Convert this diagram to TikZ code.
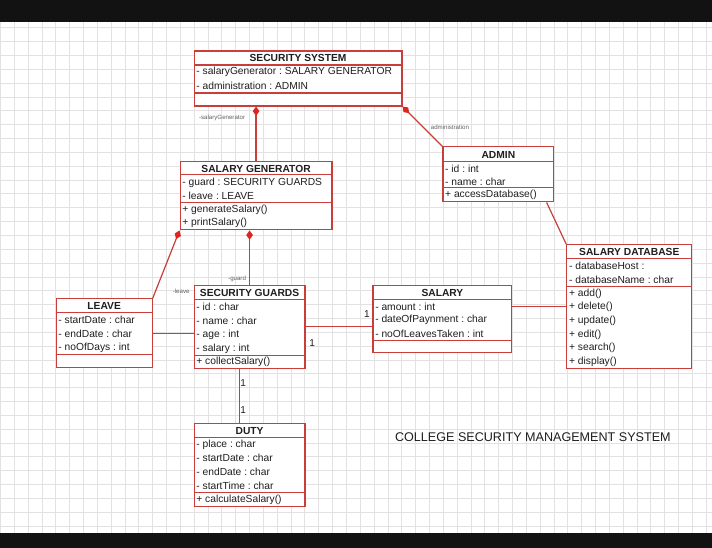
\documentclass[tikz,border=0pt]{standalone}
\usepackage{fontspec}
\setmainfont{Liberation Sans}
\usetikzlibrary{arrows.meta,fit,calc}
\definecolor{umlred}{RGB}{200,62,58}
\definecolor{dia}{RGB}{222,38,32}
\definecolor{gridc}{RGB}{226,226,226}
\definecolor{txt}{RGB}{30,30,30}
\frenchspacing
\newcommand{\umlclass}[7]{%
  \node[classbox, fit={(#2,#3) (#4,#5)}] (#1) {};
  \draw[sepline] (#2,#6) -- (#4,#6);
  \draw[sepline] (#2,#7) -- (#4,#7);
}
\begin{document}
\begin{tikzpicture}[x=0.75pt,y=-0.75pt,
  classbox/.style={draw=umlred,line width=0.9pt,fill=white,inner sep=0pt},
  sepline/.style={draw=umlred,line width=0.9pt},
  ctitle/.style={font=\fontsize{7.7}{9}\selectfont\bfseries,text=txt,inner sep=0pt},
  crow/.style={font=\fontsize{7.7}{9}\selectfont,text=txt,anchor=west,inner sep=0pt},
  conn/.style={draw=umlred,line width=0.9pt},
  comp/.style={conn,{Diamond[length=7pt,width=5pt,fill=dia,color=dia]}-},
  role/.style={font=\fontsize{4.6}{5.5}\selectfont,text=txt!70,inner sep=0pt},
  mult/.style={font=\fontsize{7.5}{9}\selectfont,text=txt,inner sep=0pt},
  bigtitle/.style={font=\fontsize{9.45}{11}\selectfont,text=txt,inner sep=0pt}]
% background and frame
\fill[white] (0,0) rectangle (712,548);
\foreach \gx in {0,13.85,...,712} \draw[gridc,line width=0.4pt] (\gx,22) -- (\gx,533);
\foreach \gy in {27.7,41.55,...,533} \draw[gridc,line width=0.4pt] (0,\gy) -- (712,\gy);
\fill[black!93] (0,0) rectangle (712,22);
\fill[black!93] (0,533) rectangle (712,548);
\useasboundingbox (0,0) rectangle (712,548);

% classes
\umlclass{ss}{194}{51}{402}{106}{65}{93}
\node[ctitle] (ss-t) at (298,58) {SECURITY SYSTEM};
\node[crow] (ss-a1) at (196,72) {- salaryGenerator : SALARY GENERATOR};
\node[crow] (ss-a2) at (196,86) {- administration : ADMIN};

\umlclass{sg}{180}{162}{332}{230}{175}{203}
\node[ctitle] (sg-t) at (256,169) {SALARY GENERATOR};
\node[crow] (sg-a1) at (182,182.5) {- guard : SECURITY GUARDS};
\node[crow] (sg-a2) at (182,196) {- leave : LEAVE};
\node[crow] (sg-o1) at (182,210) {+ generateSalary()};
\node[crow] (sg-o2) at (182,223.5) {+ printSalary()};

\umlclass{ad}{443}{147}{554}{202}{162}{188}
\node[ctitle] (ad-t) at (498.5,155) {ADMIN};
\node[crow] (ad-a1) at (445,168.5) {- id : int};
\node[crow] (ad-a2) at (445,181.5) {- name : char};
\node[crow] (ad-o1) at (445,195) {+ accessDatabase()};

\umlclass{db}{567}{245}{692}{369}{259}{287}
\node[ctitle] (db-t) at (629.5,252) {SALARY DATABASE};
\node[crow] (db-a1) at (569,266) {- databaseHost :};
\node[crow] (db-a2) at (569,280) {- databaseName : char};
\node[crow] (db-o1) at (569,294) {+ add()};
\node[crow] (db-o2) at (569,307.5) {+ delete()};
\node[crow] (db-o3) at (569,321) {+ update()};
\node[crow] (db-o4) at (569,335) {+ edit()};
\node[crow] (db-o5) at (569,348.5) {+ search()};
\node[crow] (db-o6) at (569,362) {+ display()};

\umlclass{lv}{56}{299}{152}{368}{313}{355}
\node[ctitle] (lv-t) at (104,306) {LEAVE};
\node[crow] (lv-a1) at (58,320) {- startDate : char};
\node[crow] (lv-a2) at (58,334) {- endDate : char};
\node[crow] (lv-a3) at (58,348) {- noOfDays : int};

\umlclass{gd}{194}{286}{305}{369}{300}{356}
\node[ctitle] (gd-t) at (249.5,293) {SECURITY GUARDS};
\node[crow] (gd-a1) at (196,307) {- id : char};
\node[crow] (gd-a2) at (196,321) {- name : char};
\node[crow] (gd-a3) at (196,335) {- age : int};
\node[crow] (gd-a4) at (196,349) {- salary : int};
\node[crow] (gd-o1) at (196,362.5) {+ collectSalary()};

\umlclass{sa}{373}{286}{512}{353}{300}{341}
\node[ctitle] (sa-t) at (442.5,293) {SALARY};
\node[crow] (sa-a1) at (375,307) {- amount : int};
\node[crow] (sa-a2) at (375,320.5) {- dateOfPaynment : char};
\node[crow] (sa-a3) at (375,334) {- noOfLeavesTaken : int};

\umlclass{du}{194}{424}{305}{507}{438}{493}
\node[ctitle] (du-t) at (249.5,431) {DUTY};
\node[crow] (du-a1) at (196,445) {- place : char};
\node[crow] (du-a2) at (196,458.5) {- startDate : char};
\node[crow] (du-a3) at (196,472.5) {- endDate : char};
\node[crow] (du-a4) at (196,486) {- startTime : char};
\node[crow] (du-o1) at (196,500) {+ calculateSalary()};

% connectors
\draw[comp] (sg.north |- ss.south) -- (sg.north);
\draw[comp] (ss.south east) -- (ad.north west);
\coordinate (adb) at ($(ad.south west)!0.93!(ad.south east)$);
\draw[conn] (adb) -- (db.north west);
\draw[comp] (sg.south west) -- (lv.north east);
\draw[comp] (gd.north |- sg.south) -- (gd.north);
\coordinate (lvr) at (lv.east |- 0,334);
\draw[conn] (lvr) -- (lvr -| gd.west);
\coordinate (gdr) at (gd.east |- 0,327);
\draw[conn] (gdr) -- (gdr -| sa.west);
\draw[conn] (sa.east |- db.west) -- (db.west);
\coordinate (gdb) at ($(gd.south west)!0.41!(gd.south east)$);
\draw[conn] (gdb) -- (gdb |- du.north);

% labels
\node[role] (r1) at (222,118) {-salaryGenerator};
\node[role] (r2) at (450,127) {administration};
\node[role] (r3) at (181,292) {-leave};
\node[role] (r4) at (237,279.5) {-guard};
\node[mult] (m1) at (367,314) {1};
\node[mult] (m2) at (312,343) {1};
\node[mult] (m3) at (243,383) {1};
\node[mult] (m4) at (243,410) {1};

\node[bigtitle] (title) at (533,437) {COLLEGE SECURITY MANAGEMENT SYSTEM};
\end{tikzpicture}
\end{document}
